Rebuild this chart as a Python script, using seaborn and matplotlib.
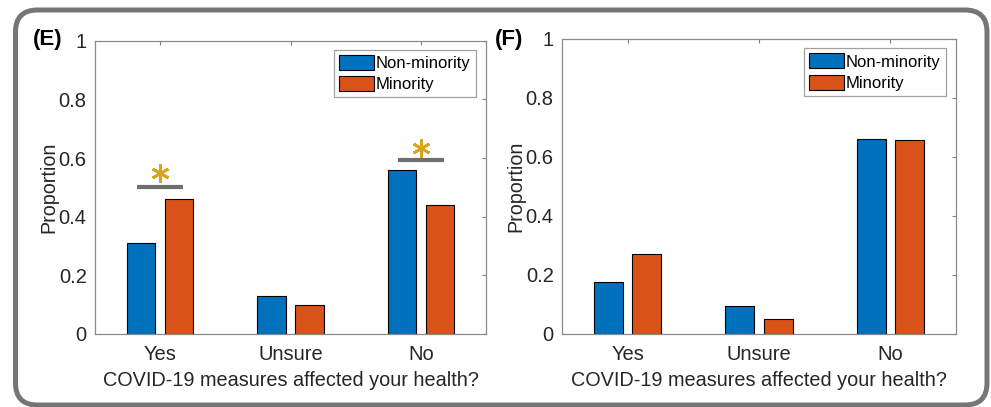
import numpy as np
import pandas as pd
import matplotlib
matplotlib.use('Agg')
import matplotlib.pyplot as plt
from matplotlib.patches import FancyBboxPatch
import seaborn as sns

# Данные
answers = ['Yes', 'Unsure', 'No']
groups = ['Non-minority', 'Minority']
e_nonminority = [0.31, 0.13, 0.56]
e_minority = [0.46, 0.10, 0.44]
f_nonminority = [0.175, 0.095, 0.662]
f_minority = [0.272, 0.052, 0.659]
# значимые различия на панели (E): категория, высота линии, высота звёздочки
e_sig_cats = ['Yes', 'No']
e_sig_line = [0.50, 0.592]
e_sig_star = [0.55, 0.635]

colors = ['#0072BD', '#D95319']
txt = '#262626'

sns.set_style('white')
plt.rcParams['font.family'] = ['Liberation Sans', 'DejaVu Sans']


def make_df(a, b):
    return pd.DataFrame({'answer': answers * 2,
                         'group': [groups[0]] * 3 + [groups[1]] * 3,
                         'prop': list(a) + list(b)})


fig = plt.figure(figsize=(9.91, 4.07), dpi=100)
ax_e = fig.add_axes([0.0959, 0.1794, 0.3945, 0.7206])
ax_f = fig.add_axes([0.5671, 0.1794, 0.3976, 0.7248])

for ax, a, b, tag, tx in [(ax_e, e_nonminority, e_minority, '(E)', 0.033),
                          (ax_f, f_nonminority, f_minority, '(F)', 0.4995)]:
    sns.barplot(data=make_df(a, b), x='answer', y='prop', hue='group',
                order=answers, hue_order=groups, palette=colors,
                width=0.584, gap=0.25, edgecolor='black', linewidth=0.8,
                saturation=1, ax=ax)
    ax.set_xlim(-0.5, 2.5)
    ax.set_ylim(0, 1)
    ax.set_yticks([0, 0.2, 0.4, 0.6, 0.8, 1])
    ax.set_yticklabels(['0', '0.2', '0.4', '0.6', '0.8', '1'])
    ax.tick_params(direction='in', length=3, width=0.8, color='#808080',
                   labelsize=14.5, labelcolor=txt, top=True, right=True,
                   pad=6)
    ax.tick_params(axis='x', pad=8)
    for s in ax.spines.values():
        s.set_visible(True)
        s.set_color('#8a8a8a')
        s.set_linewidth(0.9)
    ax.set_xlabel('COVID-19 measures affected your health?', fontsize=14.3,
                  color=txt, labelpad=5)
    ax.set_ylabel('Proportion', fontsize=14.2, color=txt, labelpad=0)
    leg = ax.legend(loc='upper right', bbox_to_anchor=(0.974, 0.968),
                    borderaxespad=0, fontsize=12, frameon=True,
                    fancybox=False, edgecolor='#8a8a8a', handlelength=2.15,
                    handleheight=1.0, handletextpad=0.1, labelspacing=0.3,
                    borderpad=0.3)
    leg.get_frame().set_linewidth(0.9)
    for t in leg.get_texts():
        t.set_color('black')
    fig.text(tx, 0.902, tag, fontsize=16, fontweight='bold', color='black',
             ha='left', va='center')

# звёздочки значимости
for cat, ly, sy in zip(e_sig_cats, e_sig_line, e_sig_star):
    xc = answers.index(cat)
    ax_e.plot([xc - 0.177, xc + 0.177], [ly, ly], color='#6e6e6e', lw=3,
              solid_capstyle='butt')
    ax_e.plot([xc], [sy], marker=(6, 2, 0), markersize=13, color='#D9A31C',
              mew=2.0, linestyle='none')

# внешняя рамка
frame = FancyBboxPatch((0.155, 0.02), 9.87 - 0.155, 3.97 - 0.02,
                       boxstyle='round,pad=0,rounding_size=0.22',
                       transform=fig.dpi_scale_trans, fill=False,
                       edgecolor='#767676', linewidth=3.6, clip_on=False)
fig.add_artist(frame)

fig.savefig('out.png', dpi=100)
